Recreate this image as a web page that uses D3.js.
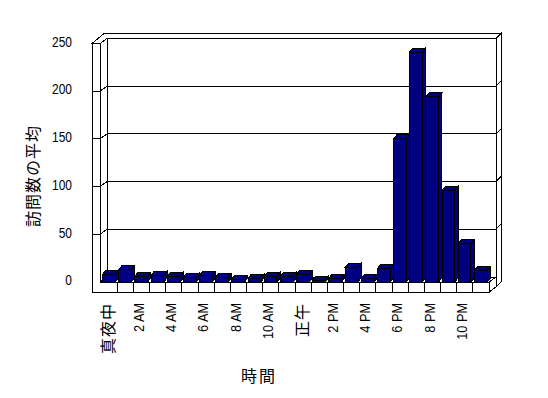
<!DOCTYPE html>
<html>
<head>
<meta charset="utf-8">
<script src="https://cdn.jsdelivr.net/npm/d3@7"></script>
<style>
  body { margin: 0; background: #fff; }
  text { font-family: "Liberation Sans", Arial, "Noto Sans CJK JP", sans-serif; fill: #000; }
  .cjk { font-family: "Noto Sans CJK JP", sans-serif; }
</style>
</head>
<body>
<div id="chart"></div>
<script>
// data
const hours = ["真夜中", "1 AM", "2 AM", "3 AM", "4 AM", "5 AM", "6 AM", "7 AM", "8 AM", "9 AM", "10 AM", "11 AM",
               "正午", "1 PM", "2 PM", "3 PM", "4 PM", "5 PM", "6 PM", "7 PM", "8 PM", "9 PM", "10 PM", "11 PM"];
const visits = [8, 13, 6, 7, 6, 5, 7, 5, 3, 4, 6, 6, 8, 2, 4, 15, 4, 14, 150, 241, 194, 96, 40, 12];
const yTicks = [0, 50, 100, 150, 200, 250];
const yTitle = "訪問数の平均";
const xTitle = "時間";

const W = 548, H = 398;
const svg = d3.select("#chart").append("svg")
    .attr("width", W).attr("height", H)
    .attr("shape-rendering", "crispEdges");

// front plane scales
const x = d3.scaleBand().domain(hours).range([101, 489]).paddingInner(0).paddingOuter(0);
const y = d3.scaleLinear().domain([0, 250]).range([282, 43.5]);

// oblique offsets
const P = [7, -5];      // floor front -> back wall
const T = [5, -5];      // wall thickness
const B = [3.3, -4];    // bar depth
const wallL = 92, plotL = 100, plotR = 489, floorB = 292;
const yTop = y(250), yBase = y(0);

const poly = (pts, fill) => svg.append("polygon")
    .attr("points", pts.map(p => p.join(",")).join(" "))
    .attr("fill", fill).attr("stroke", "#000").attr("stroke-width", 1);
const line = (x1, y1, x2, y2) => svg.append("line")
    .attr("x1", x1).attr("y1", y1).attr("x2", x2).attr("y2", y2)
    .attr("stroke", "#000").attr("stroke-width", 1);

// walls
const bx0 = plotL + P[0], bx1 = plotR + P[0];
poly([[wallL, yTop], [plotL, yTop], [bx0, yTop + P[1]], [bx1, yTop + P[1]],
      [bx1 + T[0], yTop + P[1] + T[1]], [wallL + P[0] + T[0], yTop + P[1] + T[1]]], "#fff");
poly([[bx0, yTop + P[1]], [bx1, yTop + P[1]], [bx1, yBase + P[1]], [bx0, yBase + P[1]]], "#fff");
poly([[bx1, yTop + P[1]], [bx1 + T[0], yTop + P[1] + T[1]],
      [bx1 + T[0], floorB + P[1] + T[1]], [bx1, floorB + P[1]]], "#fff");
poly([[plotL, yTop], [bx0, yTop + P[1]], [bx0, yBase + P[1]], [plotL, yBase]], "#fff");
poly([[plotL, yBase], [plotR, yBase], [bx1, yBase + P[1]], [bx0, yBase + P[1]]], "#fff");
poly([[plotR, yBase], [bx1, yBase + P[1]], [bx1, floorB + P[1]], [plotR, floorB]], "#fff");
poly([[wallL, yTop], [plotL, yTop], [plotL, yBase], [plotR, yBase], [plotR, floorB], [wallL, floorB]], "#fff");

// gridlines
yTicks.filter(v => v > 0 && v < 250).forEach(v => {
  const yy = y(v);
  line(wallL, yy, plotL, yy);
  line(plotL, yy, bx0, yy + P[1]);
  line(bx0, yy + P[1], bx1, yy + P[1]);
  line(bx1, yy + P[1], bx1 + T[0], yy + P[1] + T[1]);
});

// category dividers on floor front
hours.slice(1).forEach(h => line(x(h), yBase, x(h), floorB));

// bars
const bw = 12.7, bo = 1.5;
hours.forEach((h, i) => {
  const x0 = x(h) + bo, x1 = x0 + bw, yt = y(visits[i]);
  poly([[x0, yt], [x1, yt], [x1 + B[0], yt + B[1]], [x0 + B[0], yt + B[1]]], "#000080");
  poly([[x1, yt], [x1 + B[0], yt + B[1]], [x1 + B[0], yBase + B[1]], [x1, yBase]], "#000080");
  poly([[x0, yt], [x1, yt], [x1, yBase], [x0, yBase]], "#000080");
});

// value axis labels (narrowed like the original font)
svg.append("g").selectAll("text").data(yTicks).join("text")
    .attr("transform", d => `translate(72,${y(d) - 2}) scale(0.8,1)`)
    .attr("text-anchor", "end").attr("dy", "0.35em")
    .attr("font-size", 15)
    .text(d => d);

// category labels, every other hour
const isLatin = d => /[A-Z]/.test(d);
svg.append("g").selectAll("text").data(hours.filter((h, i) => i % 2 === 0)).join("text")
    .attr("class", d => isLatin(d) ? null : "cjk")
    .attr("transform", d => isLatin(d)
        ? `translate(${x(d) + x.bandwidth() / 2 - 3},303) rotate(-90) scale(0.85,1)`
        : `translate(${x(d) + x.bandwidth() / 2 - 1},303) rotate(-90)`)
    .attr("text-anchor", "end").attr("dy", "0.35em")
    .attr("font-size", d => isLatin(d) ? 15 : 16)
    .attr("letter-spacing", d => isLatin(d) ? 0 : 1)
    .text(d => d);

// axis titles
svg.append("text").attr("class", "cjk")
    .attr("transform", "translate(33,176) rotate(-90)")
    .attr("text-anchor", "middle").attr("dy", "0.35em")
    .attr("font-size", 16).attr("letter-spacing", 1)
    .text(yTitle);
svg.append("text").attr("class", "cjk")
    .attr("x", 259).attr("y", 376)
    .attr("text-anchor", "middle").attr("dy", "0.35em")
    .attr("font-size", 16).attr("letter-spacing", 2)
    .text(xTitle);
</script>
</body>
</html>
